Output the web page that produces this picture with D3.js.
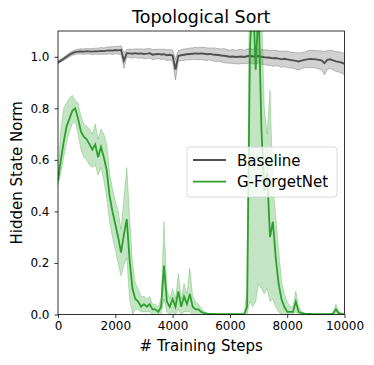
<!DOCTYPE html>
<html>
<head>
<meta charset="utf-8">
<script src="https://cdn.jsdelivr.net/npm/d3@7"></script>
<style>
  body { margin: 0; background: #fff; }
  text { font-family: "DejaVu Sans", sans-serif; }
</style>
</head>
<body>
<script>
const WIDTH = 374
const HEIGHT = 365
const LEFT = 58
const RIGHT = 344.5
const TOP = 31
const BOTTOM = 314.5

// training steps (x)
const STEPS = [
    0, 100, 200, 300, 400, 500, 600, 700, 800, 900,
    1000, 1100, 1200, 1300, 1400, 1500, 1600, 1700, 1800, 1900,
    2000, 2100, 2200, 2300, 2400, 2500, 2600, 2700, 2800, 2900,
    3000, 3100, 3200, 3300, 3400, 3500, 3600, 3700, 3800, 3900,
    4000, 4100, 4200, 4300, 4400, 4500, 4600, 4700, 4800, 4900,
    5000, 5100, 5200, 5300, 5400, 5500, 5600, 5700, 5800, 5900,
    6000, 6100, 6200, 6300, 6400, 6500, 6600, 6700, 6800, 6900,
    7000, 7100, 7200, 7300, 7400, 7500, 7600, 7700, 7800, 7900,
    8000, 8100, 8200, 8300, 8400, 8500, 8600, 8700, 8800, 8900,
    9000, 9100, 9200, 9300, 9400, 9500, 9600, 9700, 9800, 9900,
    10000
]

// Baseline: mean and half-width of band
const B_MEAN = [
    0.978, 0.985, 0.992, 1.000, 1.008, 1.014, 1.018, 1.020, 1.021, 1.020,
    1.022, 1.021, 1.020, 1.022, 1.021, 1.023, 1.022, 1.024, 1.025, 1.024,
    1.026, 1.025, 1.027, 0.985, 1.014, 1.013, 1.012, 1.014, 1.012, 1.013,
    1.011, 1.012, 1.014, 1.008, 1.010, 1.011, 1.009, 1.010, 1.006, 1.008,
    1.005, 0.950, 1.004, 1.006, 1.008, 1.010, 1.011, 1.012, 1.013, 1.012,
    1.013, 1.012, 1.010, 1.011, 1.009, 1.008, 1.007, 1.005, 1.004, 1.002,
    1.000, 1.001, 0.999, 1.000, 1.001, 0.999, 1.002, 1.004, 1.001, 1.002,
    1.003, 1.000, 0.998, 0.997, 0.996, 0.994, 0.995, 0.993, 0.990, 0.992,
    0.990, 0.988, 0.986, 0.984, 0.982, 0.985, 0.988, 0.990, 0.992, 0.991,
    0.990, 0.988, 0.986, 0.975, 0.988, 0.990, 0.986, 0.982, 0.980, 0.977,
    0.972
]
const B_SPREAD = [
    0.004, 0.005, 0.006, 0.007, 0.008, 0.008, 0.009, 0.009, 0.010, 0.010,
    0.011, 0.010, 0.012, 0.011, 0.012, 0.013, 0.012, 0.014, 0.013, 0.015,
    0.014, 0.015, 0.016, 0.030, 0.015, 0.016, 0.017, 0.016, 0.018, 0.017,
    0.018, 0.019, 0.018, 0.020, 0.019, 0.018, 0.020, 0.019, 0.021, 0.020,
    0.021, 0.040, 0.020, 0.021, 0.022, 0.021, 0.023, 0.022, 0.024, 0.023,
    0.024, 0.025, 0.024, 0.023, 0.025, 0.026, 0.024, 0.025, 0.027, 0.026,
    0.025, 0.027, 0.026, 0.028, 0.027, 0.026, 0.028, 0.027, 0.029, 0.028,
    0.027, 0.029, 0.028, 0.030, 0.029, 0.031, 0.030, 0.029, 0.031, 0.030,
    0.032, 0.031, 0.030, 0.032, 0.033, 0.031, 0.030, 0.032, 0.034, 0.033,
    0.034, 0.035, 0.036, 0.045, 0.036, 0.035, 0.037, 0.038, 0.039, 0.040,
    0.041
]

// G-ForgetNet: mean, lower and upper band
const G_MEAN = [
    0.52, 0.60, 0.67, 0.73, 0.76, 0.79, 0.80, 0.76, 0.71, 0.69,
    0.68, 0.66, 0.64, 0.66, 0.61, 0.65, 0.61, 0.56, 0.46, 0.40,
    0.35, 0.30, 0.24, 0.31, 0.37, 0.21, 0.10, 0.06, 0.05, 0.03,
    0.04, 0.03, 0.04, 0.02, 0.02, 0.01, 0.03, 0.19, 0.05, 0.03,
    0.06, 0.03, 0.09, 0.03, 0.07, 0.04, 0.08, 0.03, 0.02, 0.02,
    0.01, 0.005, 0.003, 0.002, 0.002, 0.001, 0.001, 0.001, 0.001, 0.001,
    0.001, 0.001, 0.001, 0.001, 0.001, 0.001, 0.03, 1.03, 1.25, 0.95,
    1.20, 0.72, 0.48, 0.55, 0.30, 0.36, 0.22, 0.12, 0.06, 0.03,
    0.01, 0.01, 0.01, 0.05, 0.01, 0.005, 0.003, 0.002, 0.002, 0.001,
    0.001, 0.001, 0.001, 0.001, 0.001, 0.001, 0.003, 0.02, 0.005, 0.002,
    0.001
]
const G_LO = [
    0.50, 0.55, 0.61, 0.67, 0.71, 0.74, 0.75, 0.70, 0.64, 0.61,
    0.60, 0.58, 0.57, 0.58, 0.54, 0.57, 0.52, 0.45, 0.36, 0.30,
    0.25, 0.20, 0.15, 0.19, 0.22, 0.06, 0.00, 0.02, 0.02, 0.01,
    0.01, 0.01, 0.01, 0.00, 0.00, 0.00, 0.00, 0.06, 0.01, 0.00,
    0.01, 0.00, 0.02, 0.00, 0.01, 0.01, 0.01, 0.00, 0.00, 0.00,
    0, 0, 0, 0, 0, 0, 0, 0, 0, 0,
    0, 0, 0, 0, 0, 0, 0, 0.05, 0.03, 0.05,
    0.12, 0.10, 0.08, 0.10, 0.05, 0.06, 0.03, 0.01, 0, 0,
    0, 0, 0, 0.01, 0, 0, 0, 0, 0, 0,
    0, 0, 0, 0, 0, 0, 0, 0, 0, 0,
    0
]
const G_HI = [
    0.55, 0.72, 0.80, 0.82, 0.84, 0.85, 0.83, 0.82, 0.77, 0.74,
    0.73, 0.72, 0.70, 0.74, 0.68, 0.72, 0.70, 0.66, 0.55, 0.49,
    0.44, 0.40, 0.33, 0.45, 0.57, 0.38, 0.20, 0.12, 0.10, 0.07,
    0.07, 0.06, 0.07, 0.04, 0.04, 0.03, 0.06, 0.36, 0.10, 0.06,
    0.10, 0.06, 0.16, 0.06, 0.12, 0.08, 0.18, 0.07, 0.05, 0.04,
    0.025, 0.012, 0.006, 0.004, 0.003, 0.003, 0.002, 0.002, 0.002, 0.002,
    0.002, 0.002, 0.002, 0.002, 0.002, 0.002, 0.10, 1.60, 1.60, 1.60,
    1.60, 1.20, 0.80, 0.70, 0.87, 0.50, 0.38, 0.25, 0.13, 0.08,
    0.05, 0.03, 0.03, 0.09, 0.03, 0.012, 0.006, 0.004, 0.003, 0.003,
    0.002, 0.002, 0.002, 0.002, 0.002, 0.002, 0.008, 0.04, 0.012, 0.004,
    0.002
]

const X_TICKS = [0, 2000, 4000, 6000, 8000, 10000]
const Y_TICKS = [0.0, 0.2, 0.4, 0.6, 0.8, 1.0]
const SERIES = ['Baseline', 'G-ForgetNet']

const GRAY = '#505050'
const GREEN = '#2ca02c'

const svg = d3.select('body')
    .append('svg')
    .attr('width', WIDTH)
    .attr('height', HEIGHT)

const x = d3.scaleLinear().domain([0, 10000]).range([LEFT, RIGHT])
const y = d3.scaleLinear().domain([0, 1.1]).range([BOTTOM, TOP])

svg.append('clipPath')
    .attr('id', 'plot')
    .append('rect')
    .attr('x', LEFT)
    .attr('y', TOP)
    .attr('width', RIGHT - LEFT)
    .attr('height', BOTTOM - TOP)

const baseRows = STEPS.map((s, i) => ({ s, m: B_MEAN[i], lo: B_MEAN[i] - B_SPREAD[i], hi: B_MEAN[i] + B_SPREAD[i] }))
const greenRows = STEPS.map((s, i) => ({ s, m: G_MEAN[i], lo: G_LO[i], hi: G_HI[i] }))

const area = d3.area().x(d => x(d.s)).y0(d => y(d.lo)).y1(d => y(d.hi))
const line = d3.line().x(d => x(d.s)).y(d => y(d.m))
const loLine = d3.line().x(d => x(d.s)).y(d => y(d.lo))
const hiLine = d3.line().x(d => x(d.s)).y(d => y(d.hi))

const plot = svg.append('g').attr('clip-path', 'url(#plot)')

// baseline band + line
plot.append('path').datum(baseRows)
    .attr('d', area)
    .attr('fill', '#9a9a9a')
    .attr('fill-opacity', 0.45)
for (const f of [loLine, hiLine]) {
    plot.append('path').datum(baseRows)
        .attr('d', f)
        .attr('fill', 'none')
        .attr('stroke', '#888')
        .attr('stroke-width', 0.8)
        .attr('stroke-opacity', 0.7)
}
plot.append('path').datum(baseRows)
    .attr('d', line)
    .attr('fill', 'none')
    .attr('stroke', GRAY)
    .attr('stroke-width', 1.9)

// G-ForgetNet band + line
plot.append('path').datum(greenRows)
    .attr('d', area)
    .attr('fill', GREEN)
    .attr('fill-opacity', 0.28)
for (const f of [loLine, hiLine]) {
    plot.append('path').datum(greenRows)
        .attr('d', f)
        .attr('fill', 'none')
        .attr('stroke', GREEN)
        .attr('stroke-width', 0.8)
        .attr('stroke-opacity', 0.35)
}
plot.append('path').datum(greenRows)
    .attr('d', line)
    .attr('fill', 'none')
    .attr('stroke', GREEN)
    .attr('stroke-width', 1.8)

// axes
const xAxis = d3.axisBottom(x)
    .tickValues(X_TICKS)
    .tickFormat(d3.format('d'))
    .tickSize(3.5)
    .tickPadding(3.5)
const gx = svg.append('g')
    .attr('transform', `translate(0, ${BOTTOM})`)
    .call(xAxis)

const yAxis = d3.axisLeft(y)
    .tickValues(Y_TICKS)
    .tickFormat(d3.format('.1f'))
    .tickSize(3.5)
    .tickPadding(5)
const gy = svg.append('g')
    .attr('transform', `translate(${LEFT}, 0)`)
    .call(yAxis)

for (const g of [gx, gy]) {
    g.select('.domain').remove()
    g.selectAll('text')
        .attr('font-size', 12)
        .attr('font-family', 'DejaVu Sans')
        .attr('fill', '#000')
    g.selectAll('line').attr('stroke', '#000').attr('stroke-width', 0.8)
}

svg.append('rect')
    .attr('x', LEFT)
    .attr('y', TOP)
    .attr('width', RIGHT - LEFT)
    .attr('height', BOTTOM - TOP)
    .attr('fill', 'none')
    .attr('stroke', '#000')
    .attr('stroke-width', 0.8)

// titles
svg.append('text')
    .text('Topological Sort')
    .attr('x', (LEFT + RIGHT) / 2)
    .attr('y', 22.5)
    .attr('text-anchor', 'middle')
    .attr('font-size', 17.5)

svg.append('text')
    .text('# Training Steps')
    .attr('x', (LEFT + RIGHT) / 2)
    .attr('y', 351)
    .attr('text-anchor', 'middle')
    .attr('font-size', 15)

svg.append('text')
    .text('Hidden State Norm')
    .attr('transform', `translate(21.5, ${(TOP + BOTTOM) / 2}) rotate(-90)`)
    .attr('text-anchor', 'middle')
    .attr('font-size', 15)

// legend
const legend = svg.append('g').attr('transform', 'translate(187, 147)')
legend.append('rect')
    .attr('width', 150)
    .attr('height', 50)
    .attr('rx', 3)
    .attr('fill', '#fff')
    .attr('fill-opacity', 0.8)
    .attr('stroke', '#d0d0d0')
    .attr('stroke-width', 0.8)

legend.selectAll('line')
    .data(SERIES)
    .enter()
    .append('line')
    .attr('x1', 6)
    .attr('x2', 39)
    .attr('y1', (d, i) => 13 + i * 21.7)
    .attr('y2', (d, i) => 13 + i * 21.7)
    .attr('stroke', (d, i) => i === 0 ? GRAY : GREEN)
    .attr('stroke-width', 1.8)

legend.selectAll('text')
    .data(SERIES)
    .enter()
    .append('text')
    .text(d => d)
    .attr('x', 50)
    .attr('y', (d, i) => 18.5 + i * 21.7)
    .attr('font-size', 15)
</script>
</body>
</html>
